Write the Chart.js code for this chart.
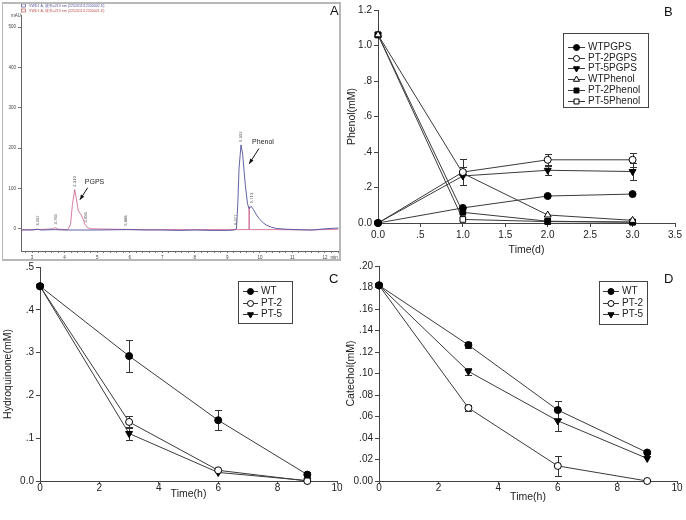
<!DOCTYPE html>
<html>
<head>
<meta charset="utf-8">
<script src="https://cdn.jsdelivr.net/npm/chart.js@4/dist/chart.umd.min.js"></script>
<style>
html, body { margin: 0; padding: 0; background: #fff; }
body { width: 686px; height: 520px; position: relative; overflow: hidden; font-family: "Liberation Sans", Arial, sans-serif; }
canvas { position: absolute; }
.frame { position: absolute; left: 2px; top: 2px; width: 339px; height: 259px; border: 2px solid #b8b8b8; border-left-width: 1px; box-sizing: border-box; pointer-events: none; }
.tag { position: absolute; font-size: 13px; line-height: 13px; color: #111; }
</style>
</head>
<body>
<canvas id="chartA" width="337" height="257" style="left:3px;top:3px"></canvas>
<canvas id="chartB" width="341" height="260" style="left:345px;top:0"></canvas>
<canvas id="chartC" width="345" height="262" style="left:0;top:258px"></canvas>
<canvas id="chartD" width="341" height="262" style="left:345px;top:258px"></canvas>
<div class="frame"></div>
<div class="tag" style="left:330px;top:4px">A</div>
<div class="tag" style="left:664px;top:5px">B</div>
<div class="tag" style="left:329px;top:272px">C</div>
<div class="tag" style="left:664px;top:272px">D</div>
<script>
// A: хроматограмма (время, мин / сигнал, mAU)
const phenolTime = [2.66, 3.0, 3.17, 3.3, 3.7, 4.0, 4.6, 5.0, 5.9, 6.5, 7.0, 7.5, 8.0, 8.5, 9.0, 9.2, 9.28, 9.32, 9.36, 9.42, 9.47, 9.55, 9.62, 9.67, 9.73, 9.8, 9.9, 10.0, 10.1, 10.2, 10.35, 10.5, 10.8, 11.2, 11.6, 12.0, 12.42];
const phenolSignal = [-3, -3, -1, -3, -2, -3, -3, -3, -2, -3, -3, -4, -3, -4, -4, -3, 0, 60, 150, 208, 185, 110, 62, 50, 56, 48, 34, 23, 15, 9, 4, 1, -1, -2, -3, 0, 2];
const pgpsTime = [2.66, 3.2, 3.65, 3.7, 3.8, 4.1, 4.18, 4.24, 4.31, 4.36, 4.42, 4.48, 4.55, 4.62, 4.7, 4.8, 5.5, 6.5, 7.8, 9.0, 9.669, 9.67, 9.671, 10.5, 11.5, 12.42];
const pgpsSignal = [-2, -2, 0, 3, -1, -2, 10, 60, 97, 75, 45, 38, 28, 12, 3, 0, -1, -2, -2, -2, -2, 55, -2, -2, -3, -1];
const peakTime = [3.17, 3.72, 4.31, 4.66, 5.88, 9.27, 9.42, 9.74];
const peakHeight = [0, 3, 97, 8, 0, 2, 208, 56];
const peakText = ['3.167', '3.765', '4.310', '4.656', '5.888', '9.277', '9.392', '9.713'];

// B: фенол и PGPS по суткам
const daysB = [0, 1, 2, 3];
const wtPgps = [0, 0.085, 0.152, 0.163];
const pt2Pgps = [0, 0.287, 0.356, 0.356];
const pt2PgpsErr = [0, 0.075, 0.032, 0.04];
const pt5Pgps = [0, 0.265, 0.297, 0.29];
const pt5PgpsErr = [0, 0.05, 0.025, 0.047];
const wtPhenol = [1.06, 0.28, 0.045, 0.015];
const pt2Phenol = [1.06, 0.06, 0.01, 0.005];
const pt5Phenol = [1.06, 0.02, 0.008, 0.005];

// C: гидрохинон
const hoursC = [0, 3, 6, 9];
const wtHq = [0.455, 0.292, 0.142, 0.015];
const wtHqErr = [0, 0.038, 0.024, 0.006];
const pt2Hq = [0.455, 0.138, 0.025, 0];
const pt2HqErr = [0, 0.014, 0, 0];
const pt5Hq = [0.455, 0.111, 0.02, 0.001];
const pt5HqErr = [0, 0.015, 0, 0];

// D: катехол
const hoursD = [0, 3, 6, 9];
const wtCat = [0.182, 0.1265, 0.066, 0.0265];
const wtCatErr = [0, 0.003, 0.008, 0.001];
const pt2Cat = [0.182, 0.068, 0.014, 0];
const pt2CatErr = [0, 0.003, 0.0095, 0];
const pt5Cat = [0.182, 0.102, 0.056, 0.021];
const pt5CatErr = [0, 0.003, 0.0097, 0];

const FONT = '"Liberation Sans", Arial, sans-serif';
Chart.defaults.font.family = FONT;
Chart.defaults.font.size = 10;
Chart.defaults.color = '#222';

const pts = (xs, ys) => xs.map((x, i) => ({ x: x, y: ys[i] }));

// стили маркеров
const MARK = {
  dot:     { pointStyle: 'circle', fill: '#000', r: 3.5, rot: 0 },
  ring:    { pointStyle: 'circle', fill: '#fff', r: 3.5, rot: 0 },
  tri:     { pointStyle: 'triangle', fill: '#000', r: 4, rot: 180 },
  triOpen: { pointStyle: 'triangle', fill: '#fff', r: 4, rot: 0 },
  sq:      { pointStyle: 'rect', fill: '#000', r: 4, rot: 0 },
  sqOpen:  { pointStyle: 'rect', fill: '#fff', r: 4, rot: 0 }
};

function series(label, xs, ys, err, m) {
  return {
    label: label,
    data: pts(xs, ys),
    err: err,
    borderColor: '#3a3a3a',
    borderWidth: 1,
    pointStyle: m.pointStyle,
    pointRotation: m.rot,
    pointRadius: m.r,
    pointBackgroundColor: m.fill,
    pointBorderColor: '#000',
    pointBorderWidth: 1,
    tension: 0,
    clip: false
  };
}

// планки погрешностей
const errorBars = {
  id: 'errorBars',
  beforeDatasetsDraw(chart) {
    const ctx = chart.ctx, sx = chart.scales.x, sy = chart.scales.y;
    ctx.save();
    ctx.strokeStyle = '#333';
    ctx.lineWidth = 1;
    chart.data.datasets.forEach(ds => {
      if (!ds.err) return;
      ds.data.forEach((p, i) => {
        const e = ds.err[i];
        if (!e) return;
        const px = Math.round(sx.getPixelForValue(p.x)) + 0.5;
        const top = Math.round(sy.getPixelForValue(p.y + e)) + 0.5;
        const bot = Math.round(sy.getPixelForValue(p.y - e)) + 0.5;
        ctx.beginPath();
        ctx.moveTo(px, top); ctx.lineTo(px, bot);
        ctx.moveTo(px - 3.5, top); ctx.lineTo(px + 3.5, top);
        ctx.moveTo(px - 3.5, bot); ctx.lineTo(px + 3.5, bot);
        ctx.stroke();
      });
    });
    ctx.restore();
  }
};

// легенда в рамке, как в SigmaPlot
const boxLegend = {
  id: 'boxLegend',
  afterDraw(chart, args, o) {
    if (!o.bw) return;
    const ctx = chart.ctx;
    ctx.save();
    ctx.lineWidth = 1;
    ctx.strokeStyle = '#444';
    ctx.strokeRect(o.bx + 0.5, o.by + 0.5, o.bw, o.bh);
    chart.data.datasets.forEach((ds, i) => {
      const y = Math.round(o.rowY + i * o.rowStep) + 0.5;
      ctx.strokeStyle = '#3a3a3a';
      ctx.beginPath();
      ctx.moveTo(o.lx0, y); ctx.lineTo(o.lx1, y);
      ctx.stroke();
      ctx.fillStyle = ds.pointBackgroundColor;
      ctx.strokeStyle = '#000';
      Chart.helpers.drawPoint(ctx, { pointStyle: ds.pointStyle, rotation: ds.pointRotation, radius: ds.pointRadius - 0.5, borderWidth: 1 }, (o.lx0 + o.lx1) / 2, y);
      ctx.fillStyle = '#222';
      ctx.font = '10px ' + FONT;
      ctx.textBaseline = 'middle';
      ctx.textAlign = 'left';
      ctx.fillText(ds.label, o.tx, y);
    });
    ctx.restore();
  }
};

function fmtDrop(digits) {
  return v => v === 0 ? (0).toFixed(digits) : v.toFixed(digits).replace(/^0/, '');
}

function axisLine(min, max, step, fmt, title, size, titlePad, labelPad, tickLen) {
  return {
    type: 'linear', min: min, max: max,
    border: { display: true, color: '#444', width: 1 },
    grid: { drawOnChartArea: false, drawTicks: true, tickLength: tickLen || 4, color: '#444' },
    ticks: { stepSize: step, callback: fmt, padding: labelPad, color: '#222', autoSkip: false, maxRotation: 0, font: { size: 10 } },
    title: { display: true, text: title, color: '#222', font: { size: 10.5 }, padding: titlePad },
    afterFit: s => { if (s.isHorizontal()) s.height = size; else s.width = size; }
  };
}

function panel(id, datasets, xAxis, yAxis, pad, legend) {
  return new Chart(document.getElementById(id), {
    type: 'line',
    data: { datasets: datasets },
    options: {
      responsive: false,
      animation: false,
      layout: { padding: pad },
      scales: { x: xAxis, y: yAxis },
      plugins: { legend: { display: false }, tooltip: { enabled: false }, boxLegend: legend }
    },
    plugins: [errorBars, boxLegend]
  });
}

// B
panel('chartB', [
  series('WTPGPS', daysB, wtPgps, null, MARK.dot),
  series('PT-2PGPS', daysB, pt2Pgps, pt2PgpsErr, MARK.ring),
  series('PT-5PGPS', daysB, pt5Pgps, pt5PgpsErr, MARK.tri),
  series('WTPhenol', daysB, wtPhenol, null, MARK.triOpen),
  series('PT-2Phenol', daysB, pt2Phenol, null, MARK.sq),
  series('PT-5Phenol', daysB, pt5Phenol, null, MARK.sqOpen)
],
  axisLine(0, 3.5, 0.5, fmtDrop(1), 'Time(d)', 37, { top: 0, bottom: 4 }, 2),
  axisLine(0, 1.2, 0.2, fmtDrop(1), 'Phenol(mM)', 33, { top: 1, bottom: 0 }, 2),
  { left: 0, right: 11, top: 10, bottom: 0 },
  { bx: 218, by: 33, bw: 85, bh: 74, rowY: 47, rowStep: 10.7, lx0: 223, lx1: 240, tx: 243 });

// C
panel('chartC', [
  series('WT', hoursC, wtHq, wtHqErr, MARK.dot),
  series('PT-2', hoursC, pt2Hq, pt2HqErr, MARK.ring),
  series('PT-5', hoursC, pt5Hq, pt5HqErr, MARK.tri)
],
  axisLine(0, 10, 2, v => String(v), 'Time(h)', 39, { top: 0, bottom: 20 }, -2, 3),
  axisLine(0, 0.5, 0.1, fmtDrop(1), 'Hydroquinone(mM)', 40, { top: 2, bottom: 0 }, 2),
  { left: 0, right: 8, top: 9, bottom: 0 },
  { bx: 238, by: 23, bw: 54, bh: 42, rowY: 33, rowStep: 11.7, lx0: 243, lx1: 258, tx: 261 });

// D
panel('chartD', [
  series('WT', hoursD, wtCat, wtCatErr, MARK.dot),
  series('PT-2', hoursD, pt2Cat, pt2CatErr, MARK.ring),
  series('PT-5', hoursD, pt5Cat, pt5CatErr, MARK.tri)
],
  axisLine(0, 10, 2, v => String(v), 'Time(h)', 39, { top: 0, bottom: 17 }, -2, 3),
  axisLine(0, 0.2, 0.02, fmtDrop(2), 'Catechol(mM)', 34, { top: 0, bottom: 0 }, 2),
  { left: 0, right: 9, top: 8, bottom: 0 },
  { bx: 254, by: 23, bw: 48, bh: 43, rowY: 33, rowStep: 11.7, lx0: 258, lx1: 274, tx: 277 });

// A: подписи пиков, стрелки, легенда прибора
const chromExtras = {
  id: 'chromExtras',
  afterDraw(chart) {
    const ctx = chart.ctx, sx = chart.scales.x, sy = chart.scales.y;
    ctx.save();
    // легенда прибора
    const legendRows = [
      { text: 'VWD1 A, 波长=213 nm (2252011\\12200002.D)', color: '#50509a' },
      { text: 'VWD1 A, 波长=213 nm (2252011\\12200001.D)', color: '#c05050' }
    ];
    legendRows.forEach((r, i) => {
      const y = 2.5 + i * 5;
      ctx.strokeStyle = r.color;
      ctx.lineWidth = 0.7;
      ctx.strokeRect(18.5, y - 1.5, 4, 3);
      ctx.fillStyle = r.color;
      ctx.font = '3.6px ' + FONT;
      ctx.textBaseline = 'middle';
      ctx.fillText(r.text, 26, y);
    });
    // единицы осей
    ctx.fillStyle = '#444';
    ctx.font = '4.5px ' + FONT;
    ctx.textBaseline = 'middle';
    ctx.fillText('mAU', 8, 13);
    ctx.textAlign = 'right';
    ctx.fillText('min', chart.chartArea.right - 1, chart.chartArea.bottom + 6.5);
    // подписи времени удерживания
    ctx.textAlign = 'left';
    ctx.fillStyle = '#555';
    ctx.font = '4.2px ' + FONT;
    peakTime.forEach((t, i) => {
      ctx.save();
      ctx.translate(sx.getPixelForValue(t), sy.getPixelForValue(peakHeight[i]) - 3);
      ctx.rotate(-Math.PI / 2);
      ctx.fillText(peakText[i], 0, 0);
      ctx.restore();
    });
    // аннотации со стрелками
    const notes = [
      { text: 'PGPS', tx: 4.62, ty: 117, from: [4.71, 102], to: [4.47, 72] },
      { text: 'Phenol', tx: 9.76, ty: 216, from: [9.97, 199], to: [9.67, 161] }
    ];
    notes.forEach(n => {
      ctx.fillStyle = '#222';
      ctx.font = '7px ' + FONT;
      ctx.textBaseline = 'middle';
      ctx.fillText(n.text, sx.getPixelForValue(n.tx), sy.getPixelForValue(n.ty));
      const x0 = sx.getPixelForValue(n.from[0]), y0 = sy.getPixelForValue(n.from[1]);
      const x1 = sx.getPixelForValue(n.to[0]), y1 = sy.getPixelForValue(n.to[1]);
      const a = Math.atan2(y1 - y0, x1 - x0);
      ctx.strokeStyle = '#111';
      ctx.lineWidth = 1;
      ctx.beginPath(); ctx.moveTo(x0, y0); ctx.lineTo(x1, y1); ctx.stroke();
      ctx.beginPath();
      ctx.moveTo(x1, y1);
      ctx.lineTo(x1 - 5 * Math.cos(a) + 2 * Math.sin(a), y1 - 5 * Math.sin(a) - 2 * Math.cos(a));
      ctx.lineTo(x1 - 5 * Math.cos(a) - 2 * Math.sin(a), y1 - 5 * Math.sin(a) + 2 * Math.cos(a));
      ctx.closePath();
      ctx.fillStyle = '#111';
      ctx.fill();
    });
    ctx.restore();
  }
};

new Chart(document.getElementById('chartA'), {
  type: 'line',
  data: {
    datasets: [
      { label: 'phenol', data: pts(phenolTime, phenolSignal), borderColor: '#50509a', borderWidth: 0.9, pointRadius: 0, tension: 0 },
      { label: 'pgps', data: pts(pgpsTime, pgpsSignal), borderColor: '#cc5a8a', borderWidth: 0.8, pointRadius: 0, tension: 0 }
    ]
  },
  options: {
    responsive: false,
    animation: false,
    layout: { padding: { left: 0, right: 0, top: 12, bottom: 0 } },
    scales: {
      x: {
        type: 'linear', min: 2.66, max: 12.42,
        border: { display: true, color: '#666', width: 1 },
        grid: { drawOnChartArea: false, tickLength: 2, color: '#777' },
        ticks: { stepSize: 0.2, includeBounds: false, autoSkip: false, maxRotation: 0, padding: 2, color: '#444', font: { size: 4.5 },
          callback: v => Math.abs(v - Math.round(v)) < 1e-6 && v < 12.3 ? String(Math.round(v)) : '' },
        afterFit: s => { s.height = 9; }
      },
      y: {
        type: 'linear', min: -55, max: 530,
        border: { display: true, color: '#666', width: 1 },
        grid: { drawOnChartArea: false, tickLength: 3, color: '#777' },
        ticks: { stepSize: 100, includeBounds: false, padding: 2, color: '#444', font: { size: 4.5 } },
        afterFit: s => { s.width = 18; }
      }
    },
    plugins: { legend: { display: false }, tooltip: { enabled: false } }
  },
  plugins: [chromExtras]
});
</script>
</body>
</html>
